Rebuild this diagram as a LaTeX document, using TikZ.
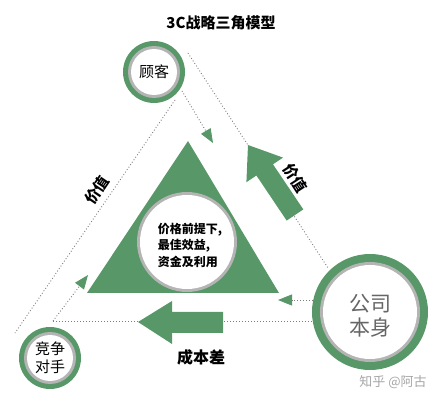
\documentclass[tikz,border=0pt]{standalone}
\usepackage{fontspec}
\setmainfont{Noto Sans CJK SC}
\usetikzlibrary{arrows.meta}
\definecolor{cgreen}{RGB}{88,152,104}
\definecolor{cring}{RGB}{180,180,180}
\definecolor{cdot}{RGB}{125,125,125}
\tikzset{
  dotline/.style={draw=cdot, line width=0.9pt, dash pattern=on 0.9pt off 2.1pt},
  greentip/.style={-{Triangle[length=14pt,width=11pt,color=cgreen]}},
  tag/.style={font=\bfseries\fontsize{15}{15}\selectfont, inner sep=0pt},
  ringtext/.style={font=\fontsize{15}{18}\selectfont, align=center, inner sep=0pt}
}
\begin{document}
\begin{tikzpicture}[x=1pt,y=-1pt]
\useasboundingbox (0,0) rectangle (440,401);
\node[font=\bfseries\fontsize{15}{15}\selectfont] (title) at (221,23) {3C战略三角模型};

% three circles
\fill[cgreen] (154,72) circle (31pt); \fill[cring] (154,72) circle (26pt); \fill[white] (154,72) circle (23pt);
\node[ringtext] (guke) at (154,72) {顾客};
\fill[cgreen] (50,358) circle (31pt); \fill[cring] (50,358) circle (26pt); \fill[white] (50,358) circle (23pt);
\node[ringtext] (rival) at (50,358) {竞争\\对手};
\fill[cgreen] (370,312) circle (58pt); \fill[cring] (370,312) circle (50pt); \fill[white] (370,312) circle (47pt);
\node[ringtext, font=\fontsize{21}{24}\selectfont, text=black!60] (firm) at (370,316) {公司\\本身};

% middle triangle
\coordinate (tl) at (87,293); \coordinate (tr) at (279,293); \coordinate (tt) at (188,141);
\fill[cgreen] (tl) -- (tr) -- (tt) -- cycle;
\draw[white, line width=0.8pt, dash pattern=on 0.8pt off 1.6pt] (tl) -- (tr);
\fill[cring] (187,242) circle (50pt); \fill[white] (187,242) circle (47pt);
\node[align=left, font=\bfseries\fontsize{12}{16.5}\selectfont, inner sep=0pt] (core) at (190,245) {价格前提下,\\最佳效益,\\资金及利用};

% dotted links
\coordinate (gr) at (188,53); \coordinate (fr) at (328,268);
\coordinate (gl) at (175,100); \coordinate (rl) at (15,333);
\coordinate (gi) at (182,91); \coordinate (ti) at (213,143);
\coordinate (ri) at (53,321); \coordinate (li) at (88,275);
\coordinate (fh) at (313,321);
\coordinate (fi) at (313,300); \coordinate (bi) at (278,300);
\draw[dotline] (gr) -- (fr);
\draw[dotline] (gl) -- (rl);
\draw[dotline, greentip] (gi) -- (ti);
\draw[dotline, greentip] (ri) -- (li);
\draw[dotline] (ri) -- (fh);
\draw[dotline, greentip] (fi) -- (bi);

% big arrows
\fill[cgreen] (248,145) -- (283,157.6) -- (273,164.3) -- (303.3,209.4) -- (286.7,220.6) -- (256.4,175.5) -- (246.4,182.2) -- cycle;
\fill[cgreen] (138,322) -- (172,301) -- (172,312) -- (223,312) -- (223,333) -- (172,333) -- (172,344) -- cycle;

% labels
\node[tag, rotate=56] (vl) at (97,190) {价值};
\node[tag, rotate=-57] (vr) at (295,178) {价值};
\node[tag, font=\bfseries\fontsize{16}{16}\selectfont] (cost) at (201,357) {成本差};
\node[font=\fontsize{13}{13}\selectfont, text=black!35] (mark) at (393,382) {知乎 @阿古};
\end{tikzpicture}
\end{document}
